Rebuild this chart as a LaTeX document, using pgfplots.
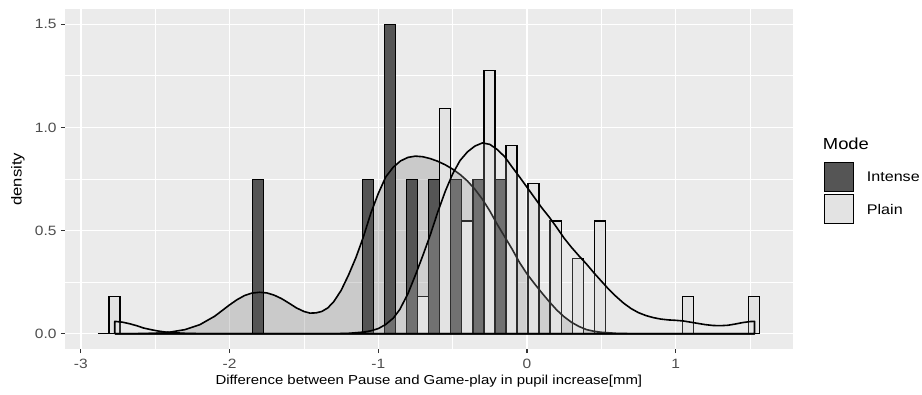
\documentclass[border=0pt]{standalone}
\usepackage{pgfplots}
\usepackage{pgfplotstable}
\pgfplotsset{compat=1.18}
\usepackage{fontspec}
\setmainfont{Liberation Sans}[FakeStretch=1.15]
\definecolor{panel}{HTML}{EBEBEB}
\definecolor{intense}{HTML}{555555}
\definecolor{plain}{HTML}{E3E3E3}
\definecolor{ticktext}{HTML}{4D4D4D}
\definecolor{tickline}{HTML}{333333}

\pgfplotstableread{
x y
-2.772 0
-2.70 0.0003
-2.60 0.001
-2.50 0.003
-2.40 0.008
-2.30 0.02
-2.20 0.044
-2.10 0.085
-2.00 0.14
-1.95 0.165
-1.90 0.185
-1.85 0.197
-1.80 0.201
-1.75 0.198
-1.70 0.187
-1.65 0.17
-1.60 0.148
-1.55 0.125
-1.50 0.108
-1.46 0.100
-1.42 0.101
-1.38 0.108
-1.34 0.125
-1.30 0.155
-1.25 0.21
-1.20 0.285
-1.15 0.37
-1.10 0.47
-1.05 0.585
-1.00 0.68
-0.95 0.76
-0.90 0.807
-0.85 0.838
-0.80 0.855
-0.75 0.861
-0.70 0.858
-0.65 0.849
-0.60 0.836
-0.55 0.819
-0.50 0.798
-0.45 0.772
-0.40 0.740
-0.35 0.700
-0.30 0.652
-0.25 0.595
-0.20 0.53
-0.15 0.47
-0.10 0.41
-0.05 0.345
0.00 0.29
0.05 0.243
0.10 0.198
0.15 0.155
0.20 0.115
0.25 0.082
0.30 0.055
0.35 0.035
0.40 0.02
0.45 0.012
0.50 0.007
0.60 0.002
0.70 0.0005
0.80 0
1.53 0
-2.772 0
}\intensedens

\pgfplotstableread{
x y
-2.772 0
-2.772 0.06
-2.72 0.056
-2.67 0.048
-2.62 0.038
-2.58 0.028
-2.53 0.02
-2.48 0.013
-2.43 0.008
-2.38 0.005
-2.30 0.002
-2.20 0.0005
-2.10 0
-1.30 0
-1.20 0.002
-1.10 0.008
-1.05 0.014
-1.00 0.025
-0.95 0.045
-0.90 0.075
-0.856 0.117
-0.80 0.195
-0.75 0.285
-0.70 0.38
-0.65 0.48
-0.60 0.59
-0.55 0.69
-0.50 0.775
-0.45 0.84
-0.40 0.882
-0.35 0.91
-0.30 0.925
-0.25 0.918
-0.20 0.893
-0.15 0.858
-0.10 0.808
-0.05 0.76
0.00 0.71
0.05 0.66
0.10 0.61
0.15 0.565
0.20 0.515
0.25 0.463
0.30 0.418
0.35 0.377
0.40 0.338
0.45 0.295
0.50 0.255
0.55 0.215
0.60 0.18
0.65 0.148
0.70 0.122
0.75 0.102
0.80 0.088
0.85 0.078
0.90 0.071
0.95 0.067
1.00 0.065
1.05 0.062
1.10 0.056
1.15 0.05
1.20 0.044
1.25 0.04
1.30 0.039
1.35 0.041
1.40 0.047
1.45 0.054
1.50 0.059
1.53 0.06
1.53 0
-2.772 0
}\plaindens

\pgfplotstableread{
x y
-1.8098 0.749
-1.0683 0.749
-0.9200 1.498
-0.7717 0.749
-0.6234 0.749
-0.4751 0.749
-0.3268 0.749
-0.1785 0.749
}\intensebars

\pgfplotstableread{
x y
-2.7738 0.182
-0.6976 0.182
-0.5493 1.093
-0.4010 0.547
-0.2527 1.275
-0.1044 0.911
0.0439 0.729
0.1922 0.547
0.3405 0.364
0.4888 0.547
1.0820 0.182
1.5269 0.182
}\plainbars

\begin{document}
\begin{tikzpicture}
\begin{axis}[
  width=728pt, height=340pt, scale only axis,
  xmin=-3.107, xmax=1.787, ymin=-0.0749, ymax=1.5729,
  axis background/.style={fill=panel},
  axis line style={draw=none},
  xtick={-3,-2,-1,0,1}, xticklabels={-3,-2,-1,0,1},
  ytick={0,0.5,1,1.5}, yticklabels={0.0,0.5,1.0,1.5},
  minor xtick={-2.5,-1.5,-0.5,0.5,1.5},
  minor ytick={0.25,0.75,1.25},
  grid=both,
  major grid style={white, line width=1.5pt},
  minor grid style={white, line width=0.8pt},
  tick align=outside, tick pos=left,
  major tick length=4pt, minor tick length=0pt,
  every tick/.style={tickline, line width=1.1pt},
  ticklabel style={font=\fontsize{13.5}{15}\selectfont, text=ticktext},
  xticklabel style={yshift=-2.5pt},
  yticklabel style={xshift=-1pt},
  xlabel={Difference between Pause and Game-play in pupil increase[mm]},
  ylabel={density},
  xlabel style={at={(axis description cs:0.5,-0.0932)}, anchor=center, font=\fontsize{13}{15}\selectfont},
  ylabel style={at={(axis description cs:-0.0646,0.5)}, anchor=center, font=\fontsize{14.5}{16}\selectfont},
  clip=false,
]
% Intense density fill (under bars)
\addplot[draw=none, fill=intense, fill opacity=0.22] table {\intensedens};
% histogram bars (dodged)
\addplot[ybar, bar width=0.07415, bar shift=0pt, fill=intense, draw=black, line width=1.2pt] table {\intensebars};
\addplot[ybar, bar width=0.07415, bar shift=0pt, fill=plain, draw=black, line width=1.2pt] table {\plainbars};
% zero-height bars baseline
\addplot[black, line width=1.3pt] coordinates {(-2.885,0) (1.564,0)};
% Intense density outline
\addplot[black, line width=1.6pt, line join=round] table {\intensedens};
% Plain density
\addplot[draw=black, fill=plain, fill opacity=0.2, line width=1.6pt, line join=round] table {\plaindens};
\coordinate (SW) at (rel axis cs:0,0);
\coordinate (NE) at (rel axis cs:1,1);
\end{axis}
% legend
\node[anchor=base west, font=\fontsize{16}{19}\selectfont, inner sep=0pt] at ([xshift=30pt,yshift=-140pt]NE) {Mode};
\draw[fill=intense, draw=black, line width=1.4pt] ([xshift=31.5pt,yshift=-153.5pt]NE) rectangle ([xshift=60.5pt,yshift=-182.5pt]NE);
\draw[fill=plain, draw=black, line width=1.4pt] ([xshift=31.5pt,yshift=-185.5pt]NE) rectangle ([xshift=60.5pt,yshift=-214.5pt]NE);
\node[anchor=west, font=\fontsize{14}{16}\selectfont, inner sep=0pt] at ([xshift=74pt,yshift=-168pt]NE) {Intense};
\node[anchor=west, font=\fontsize{14}{16}\selectfont, inner sep=0pt] at ([xshift=74pt,yshift=-200pt]NE) {Plain};
% page frame
\path ([xshift=-65pt,yshift=-45.7pt]SW) rectangle ([xshift=129.3pt,yshift=9.3pt]NE);
\end{tikzpicture}
\end{document}
